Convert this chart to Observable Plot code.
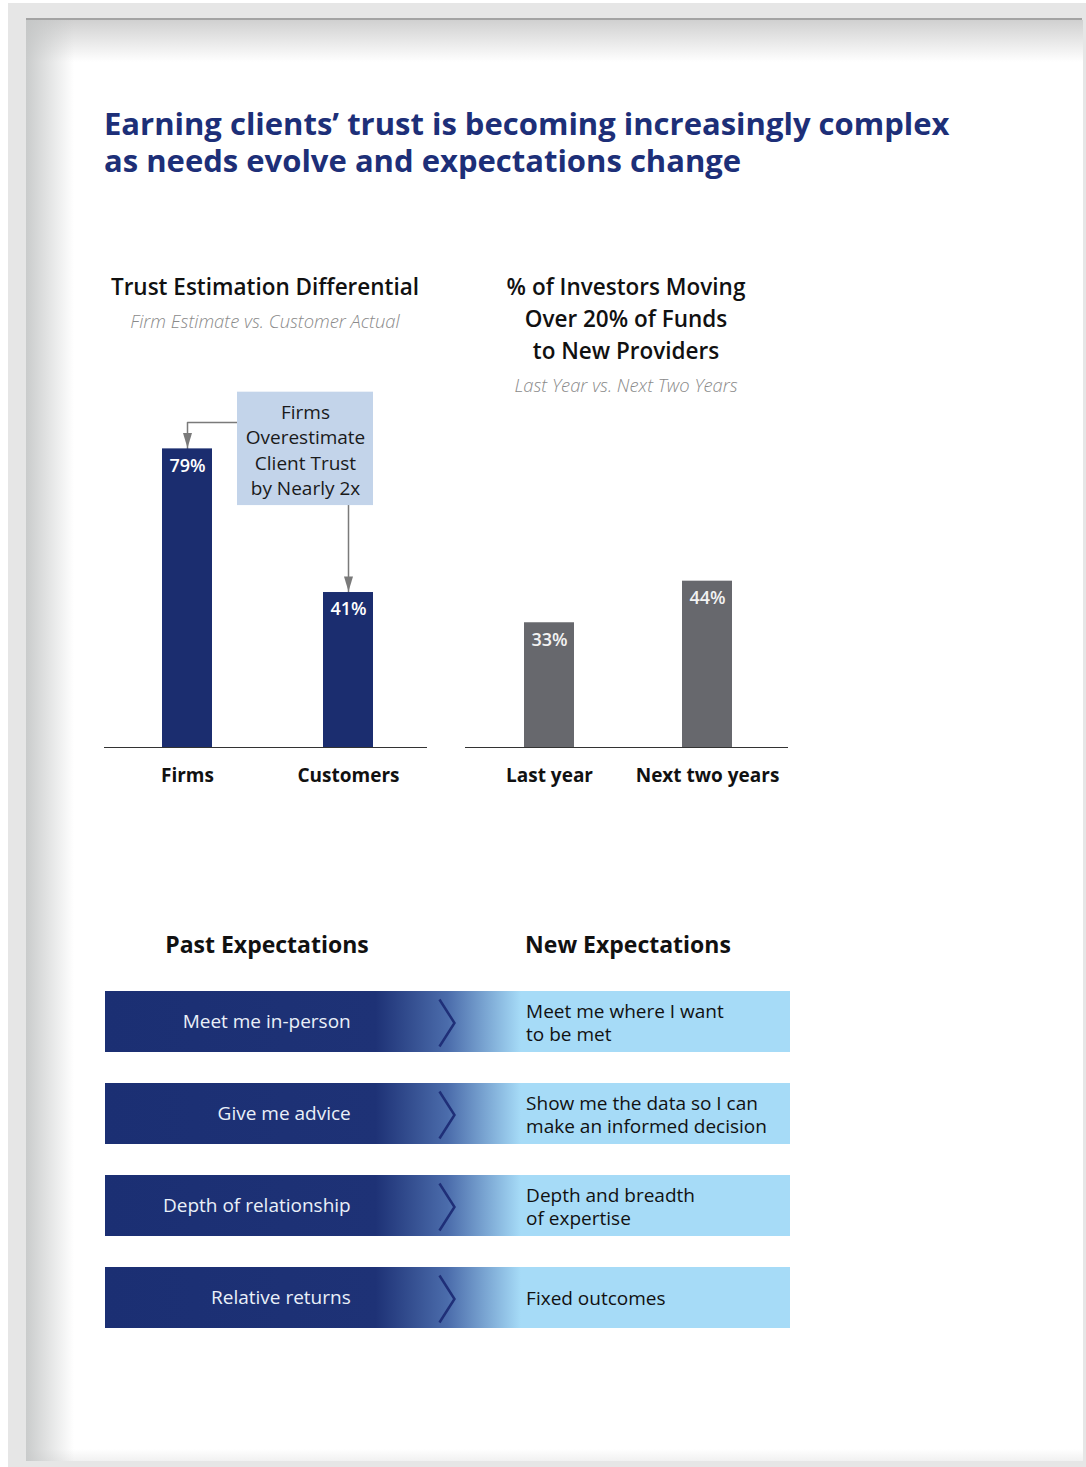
<!DOCTYPE html>
<html><head><meta charset="utf-8">
<script src="https://cdn.jsdelivr.net/npm/d3@7"></script>
<script src="https://cdn.jsdelivr.net/npm/@observablehq/plot@0.6"></script>
<style>
html,body{margin:0;padding:0;background:#fff;}
#root{position:relative;width:1086px;height:1467px;overflow:hidden;font-family:"Open Sans",sans-serif;}
#outer{position:absolute;left:8px;top:3px;width:1078px;height:1464px;background:#e6e6e6;}
#page{position:absolute;left:26px;top:20px;width:1057px;height:1441px;background:
 linear-gradient(to right, rgba(196,198,198,0.9), rgba(255,255,255,0) 48px),
 linear-gradient(to bottom, rgba(200,200,200,0.85), rgba(255,255,255,0) 42px),
 linear-gradient(to top, rgba(235,235,235,0.7), rgba(255,255,255,0) 12px),
 #fff;}
#topline{position:absolute;left:26px;top:18px;width:1056px;height:2px;background:#a3a3a3;}
.t{position:absolute;white-space:nowrap;}
.chart{position:absolute;}
.chart svg{overflow:visible;}
</style>
</head><body>
<div id="root"><div id="outer"></div><div id="page"></div><div id="topline"></div></div>
<script>
// ---------- data ----------
const titleLines = ["Earning clients\u2019 trust is becoming increasingly complex", "as needs evolve and expectations change"];
const trustTitle = ["Trust Estimation Differential"];
const trustSubtitle = ["Firm Estimate vs. Customer Actual"];
const trustCategories = ["Firms", "Customers"];
const trustValues = [79, 41];
const moveTitle = ["% of Investors Moving", "Over 20% of Funds", "to New Providers"];
const moveSubtitle = ["Last Year vs. Next Two Years"];
const moveCategories = ["Last year", "Next two years"];
const moveValues = [33, 44];
const annotationText = "Firms\nOverestimate\nClient Trust\nby Nearly 2x";
const annotationSpan = [64, 94];   // box extent in % units
const annotationArrowLevel = 86;    // elbow arrow height in % units
const expectationHeadings = ["Past Expectations", "New Expectations"];
const pastExpectations = ["Meet me in-person", "Give me advice", "Depth of relationship", "Relative returns"];
const newExpectations = ["Meet me where I want\nto be met", "Show me the data so I can\nmake an informed decision", "Depth and breadth\nof expertise", "Fixed outcomes"];

// ---------- helpers ----------
const root = document.getElementById("root");
function addText(lines, {x, baseline, size, weight = 400, style = "normal", color = "#111", align = "left", lh}) {
  const div = document.createElement("div");
  div.className = "t";
  const L = lh || Math.round(size * 1.3);
  const top = baseline - ((L - 1.362 * size) / 2 + 1.069 * size);
  div.style.cssText = `left:${x}px;top:${top}px;font-size:${size}px;font-weight:${weight};font-style:${style};color:${color};line-height:${L}px;text-align:${align};`;
  if (align === "center") div.style.transform = "translateX(-50%)";
  div.innerHTML = lines.join("<br>");
  root.appendChild(div);
}
function place(svg, left, top) {
  const d = document.createElement("div");
  d.className = "chart";
  d.style.left = left + "px";
  d.style.top = top + "px";
  d.appendChild(svg);
  root.appendChild(d);
}
const FONT = '"Open Sans", sans-serif';
const arrowHead = {draw(c) { c.moveTo(-4.5, -7.5); c.lineTo(4.5, -7.5); c.lineTo(0, 7.5); c.closePath(); }};
const chevron = {draw(c) { c.moveTo(-7.5, -23.5); c.lineTo(7.5, 0); c.lineTo(-7.5, 23.5); }};

function barChart(cats, vals, fill, labelFill, band, back = [], front = []) {
  const data = cats.map((c, i) => ({cat: c, value: vals[i]}));
  return Plot.plot({
    width: 323, height: 439, marginLeft: 0, marginRight: 0, marginTop: 11, marginBottom: 50,
    style: {fontFamily: FONT, fontSize: "18px", color: "#111", background: "transparent"},
    x: {domain: cats, ...band, label: null},
    y: {domain: [0, 100], axis: null},
    marks: [
      ...back,
      Plot.barY(data, {x: "cat", y: "value", fill}),
      Plot.ruleY([0], {stroke: "#333", strokeWidth: 1.2}),
      Plot.text(data, {x: "cat", y: "value", text: d => d.value + "%", dy: 17, fill: labelFill, fontSize: 18, fontWeight: 600}),
      Plot.axisX({tickSize: 0, tickPadding: 21, fontWeight: 700, fontSize: 19, fill: "#111", label: null}),
      ...front
    ]
  });
}

// ---------- title ----------
addText(titleLines, {x: 104, baseline: 136, size: 31, weight: 700, color: "#1d2f78", lh: 37});

// ---------- chart 1 ----------
addText(trustTitle, {x: 265, baseline: 295.5, size: 22.5, weight: 600, color: "#111", align: "center"});
addText(trustSubtitle, {x: 265, baseline: 328, size: 18.4, weight: 300, style: "italic", color: "#8a8a8a", align: "center"});
const annoMid = (annotationSpan[0] + annotationSpan[1]) / 2;
const chart1 = barChart(trustCategories, trustValues, "#1b2d6f", "#ffffff",
  {paddingInner: 0.691, paddingOuter: 0.3425, align: 0.514},
  [
    Plot.line([
      {cat: trustCategories[1], v: annotationArrowLevel},
      {cat: trustCategories[0], v: annotationArrowLevel},
      {cat: trustCategories[0], v: trustValues[0]}
    ], {x: "cat", y: "v", stroke: "#7a7a7a", strokeWidth: 1.5}),
    Plot.line([
      {cat: trustCategories[1], v: annotationSpan[0]},
      {cat: trustCategories[1], v: trustValues[1]}
    ], {x: "cat", y: "v", stroke: "#7a7a7a", strokeWidth: 1.5}),
    Plot.barY([{cat: trustCategories[1], y1: annotationSpan[0], y2: annotationSpan[1]}],
      {x: "cat", y1: "y1", y2: "y2", fill: "#c3d4ea", insetLeft: -86})
  ],
  [
    Plot.text([{cat: trustCategories[1], v: annoMid, t: annotationText}],
      {x: "cat", y: "v", text: "t", dx: -43, fontSize: 19, lineHeight: 1.33, fill: "#1a1a1a"}),
    Plot.dot([{cat: trustCategories[0], v: trustValues[0]}, {cat: trustCategories[1], v: trustValues[1]}],
      {x: "cat", y: "v", symbol: arrowHead, fill: "#7a7a7a", stroke: "none", dy: -8.5})
  ]);
place(chart1, 104, 358);

// ---------- chart 2 ----------
addText(moveTitle, {x: 626, baseline: 295.5, size: 22.5, weight: 600, color: "#111", align: "center", lh: 32});
addText(moveSubtitle, {x: 626, baseline: 392, size: 18.4, weight: 300, style: "italic", color: "#8a8a8a", align: "center"});
const chart2 = barChart(moveCategories, moveValues, "#67686d", "#f2f2f2",
  {paddingInner: 0.686, paddingOuter: 0.359, align: 0.508});
place(chart2, 465, 358);

// ---------- expectations ----------
addText([expectationHeadings[0]], {x: 267, baseline: 952.5, size: 23, weight: 700, color: "#111", align: "center"});
addText([expectationHeadings[1]], {x: 628, baseline: 952.5, size: 23, weight: 700, color: "#111", align: "center"});
const expData = pastExpectations.map((p, i) => ({past: p, next: newExpectations[i]}));
const defs = () => {
  const d = d3.create("svg:defs");
  const g = d.append("linearGradient").attr("id", "expGrad").attr("x1", 0).attr("x2", 1).attr("y1", 0).attr("y2", 0);
  [[0, "#1b2f73"], [0.395, "#1e3276"], [0.5, "#4b6cab"], [0.607, "#a6dbf7"], [1, "#a6dbf7"]]
    .forEach(([o, c]) => g.append("stop").attr("offset", o).attr("stop-color", c));
  return d.node();
};
const expChart = Plot.plot({
  width: 685, height: 341, margin: 0,
  style: {fontFamily: FONT, fontSize: "19px", background: "transparent"},
  x: {domain: [0, 1], axis: null},
  y: {domain: pastExpectations, paddingInner: 0.3333, paddingOuter: 0, axis: null},
  marks: [
    defs,
    Plot.barX(expData, {y: "past", x1: 0, x2: 1, fill: "url(#expGrad)"}),
    Plot.text(expData, {y: "past", x: 0.358, text: "past", textAnchor: "end", fill: "#eaf0f9", fontSize: 19}),
    Plot.dot(expData, {y: "past", x: 0.4985, symbol: chevron, stroke: "#1f2f78", strokeWidth: 2.5, fill: "none", dy: 1}),
    Plot.text(expData, {y: "past", x: 0.614, text: "next", textAnchor: "start", fill: "#111", fontSize: 19, lineHeight: 1.21})
  ]
});
place(expChart, 105, 989);
</script>
</body></html>
